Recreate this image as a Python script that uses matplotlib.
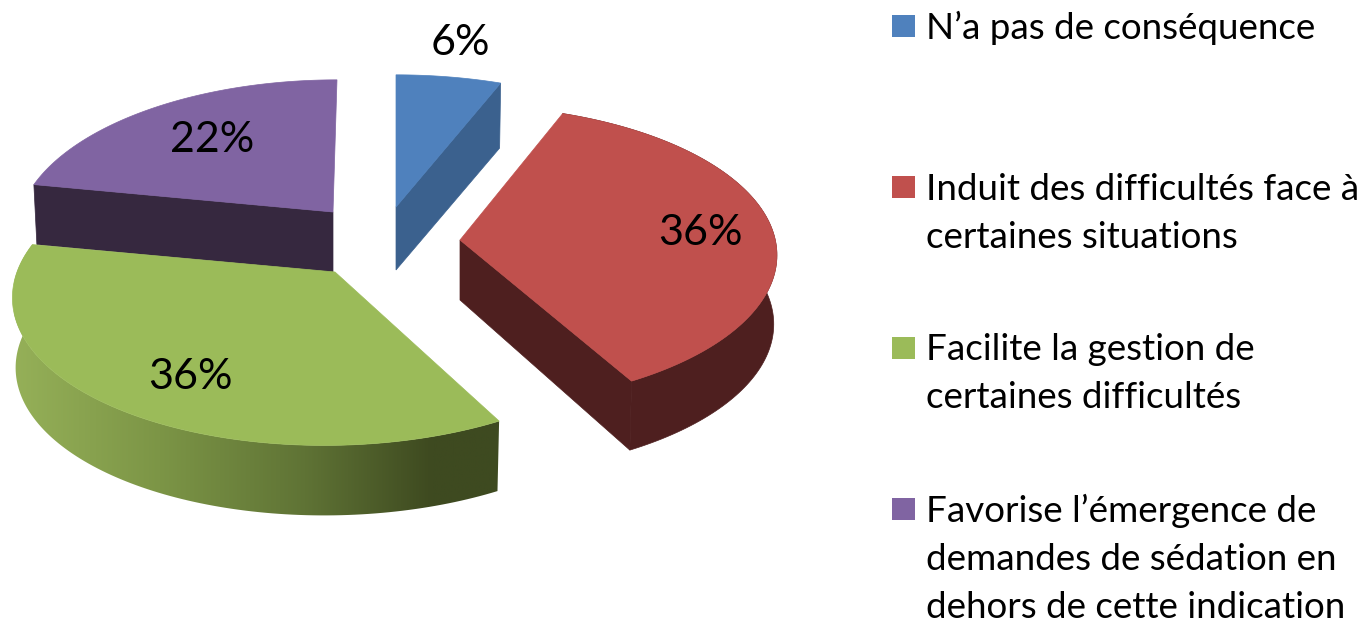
import numpy as np
import matplotlib
matplotlib.use("Agg")
import matplotlib.pyplot as plt
from matplotlib.colors import LinearSegmentedColormap
from matplotlib.patches import Polygon, Rectangle

plt.rcParams['font.family'] = ['Lato', 'DejaVu Sans']

labels = ["N’a pas de conséquence",
          "Induit des difficultés face à\ncertaines situations",
          "Facilite la gestion de\ncertaines difficultés",
          "Favorise l’émergence de\ndemandes de sédation en\ndehors de cette indication"]
values = [6, 36, 36, 22]

top_colors = ['#4f81bd', '#c0504d', '#9bbb59', '#8064a2']
side_colors = ['#3b618e', '#4e1f1f', None, '#36283f']

# exploded position of each slice apex, in pixels
centers = [(396, 207), (460, 240), (335, 272), (333, 212)]
apex_depth = [63, 60, 62, 60]
rim_depth = [65, 69, 70, 60]
radius_x = [320, 314, 318, 313]
radius_y = [150, 147, 150, 150]
rim_shear = [0, 0, 11, 4]
rim_dy = [0, -5, 0, 0]
label_pos = [(460, 43), (700, 233), (190, 377), (212, 140)]
legend_y = [27, 188, 349, 510]

PERSP = 0.135
FOOT = 0.99   # the lower face of the pie is a bit narrower
LINE_H = 48


def rim(theta, i):
    # perspective view of a point on the edge of slice i
    cx, cy = centers[i]
    x = radius_x[i] * np.sin(theta)
    y = np.cos(theta)
    w = 1 + PERSP * y
    return cx + x / w + rim_shear[i] * y, cy + rim_dy[i] - radius_y[i] * y / w


fig = plt.figure(figsize=(13.62, 6.21), dpi=100)
ax = fig.add_axes([0, 0, 1, 1])

edges = np.cumsum([0] + values) / sum(values) * 2 * np.pi
slices = []
for i in range(len(values)):
    th = np.linspace(edges[i], edges[i + 1], 120)
    slices.append(rim(th, i))

# back to front so the green top covers the foot of the purple side
for i in [0, 3, 1, 2]:
    xs, ys = slices[i]
    cx, cy = centers[i]
    ad, rd = apex_depth[i], rim_depth[i]
    xb = cx + (xs - cx) * FOOT

    # the cut faces
    for j in (0, -1):
        if (i == 0 and j == -1) or (i == 1 and j == -1) or (i == 3 and j == 0):
            face = [(cx, cy), (xs[j], ys[j]), (xb[j], ys[j] + rd), (cx, cy + ad)]
            ax.add_patch(Polygon(face, closed=True, fc=side_colors[i], ec=side_colors[i], lw=.5))

    # the outer wall, only where it faces the viewer
    if i in (1, 2):
        wall = np.r_[np.c_[xs, ys], np.c_[xb, ys + rd][::-1]]
        if i == 2:
            patch = Polygon(wall, closed=True, fc='none', ec='none')
            ax.add_patch(patch)
            cmap = LinearSegmentedColormap.from_list(
                'wall', [(0, '#95b058'), (.3, '#7c9546'), (.6, '#5f7335'), (.86, '#3e4a20'), (1, '#3e4a20')])
            im = ax.imshow(np.linspace(0, 1, 256)[None, :], extent=(14, 500, 530, 240),
                           cmap=cmap, aspect='auto', zorder=1)
            im.set_clip_path(patch)
        else:
            ax.add_patch(Polygon(wall, closed=True, fc=side_colors[i], ec=side_colors[i], lw=.5))

    top = np.r_[[(cx, cy)], np.c_[xs, ys]]
    ax.add_patch(Polygon(top, closed=True, fc=top_colors[i], ec=top_colors[i], lw=.5, zorder=2))

for v, (x, y) in zip(values, label_pos):
    ax.text(x, y, f"{v}%", fontsize=31, ha='center', va='center', color='black', zorder=3)

for lab, col, y in zip(labels, top_colors, legend_y):
    ax.add_patch(Rectangle((892, y - 12), 23, 22, fc=col, ec='none'))
    for k, line in enumerate(lab.split("\n")):
        ax.text(926, y + 1 + k * LINE_H, line, fontsize=26.5, ha='left', va='center', color='black')

ax.set_xlim(0, 1362)
ax.set_ylim(621, 0)
ax.axis('off')
fig.savefig("out.png", dpi=100)
